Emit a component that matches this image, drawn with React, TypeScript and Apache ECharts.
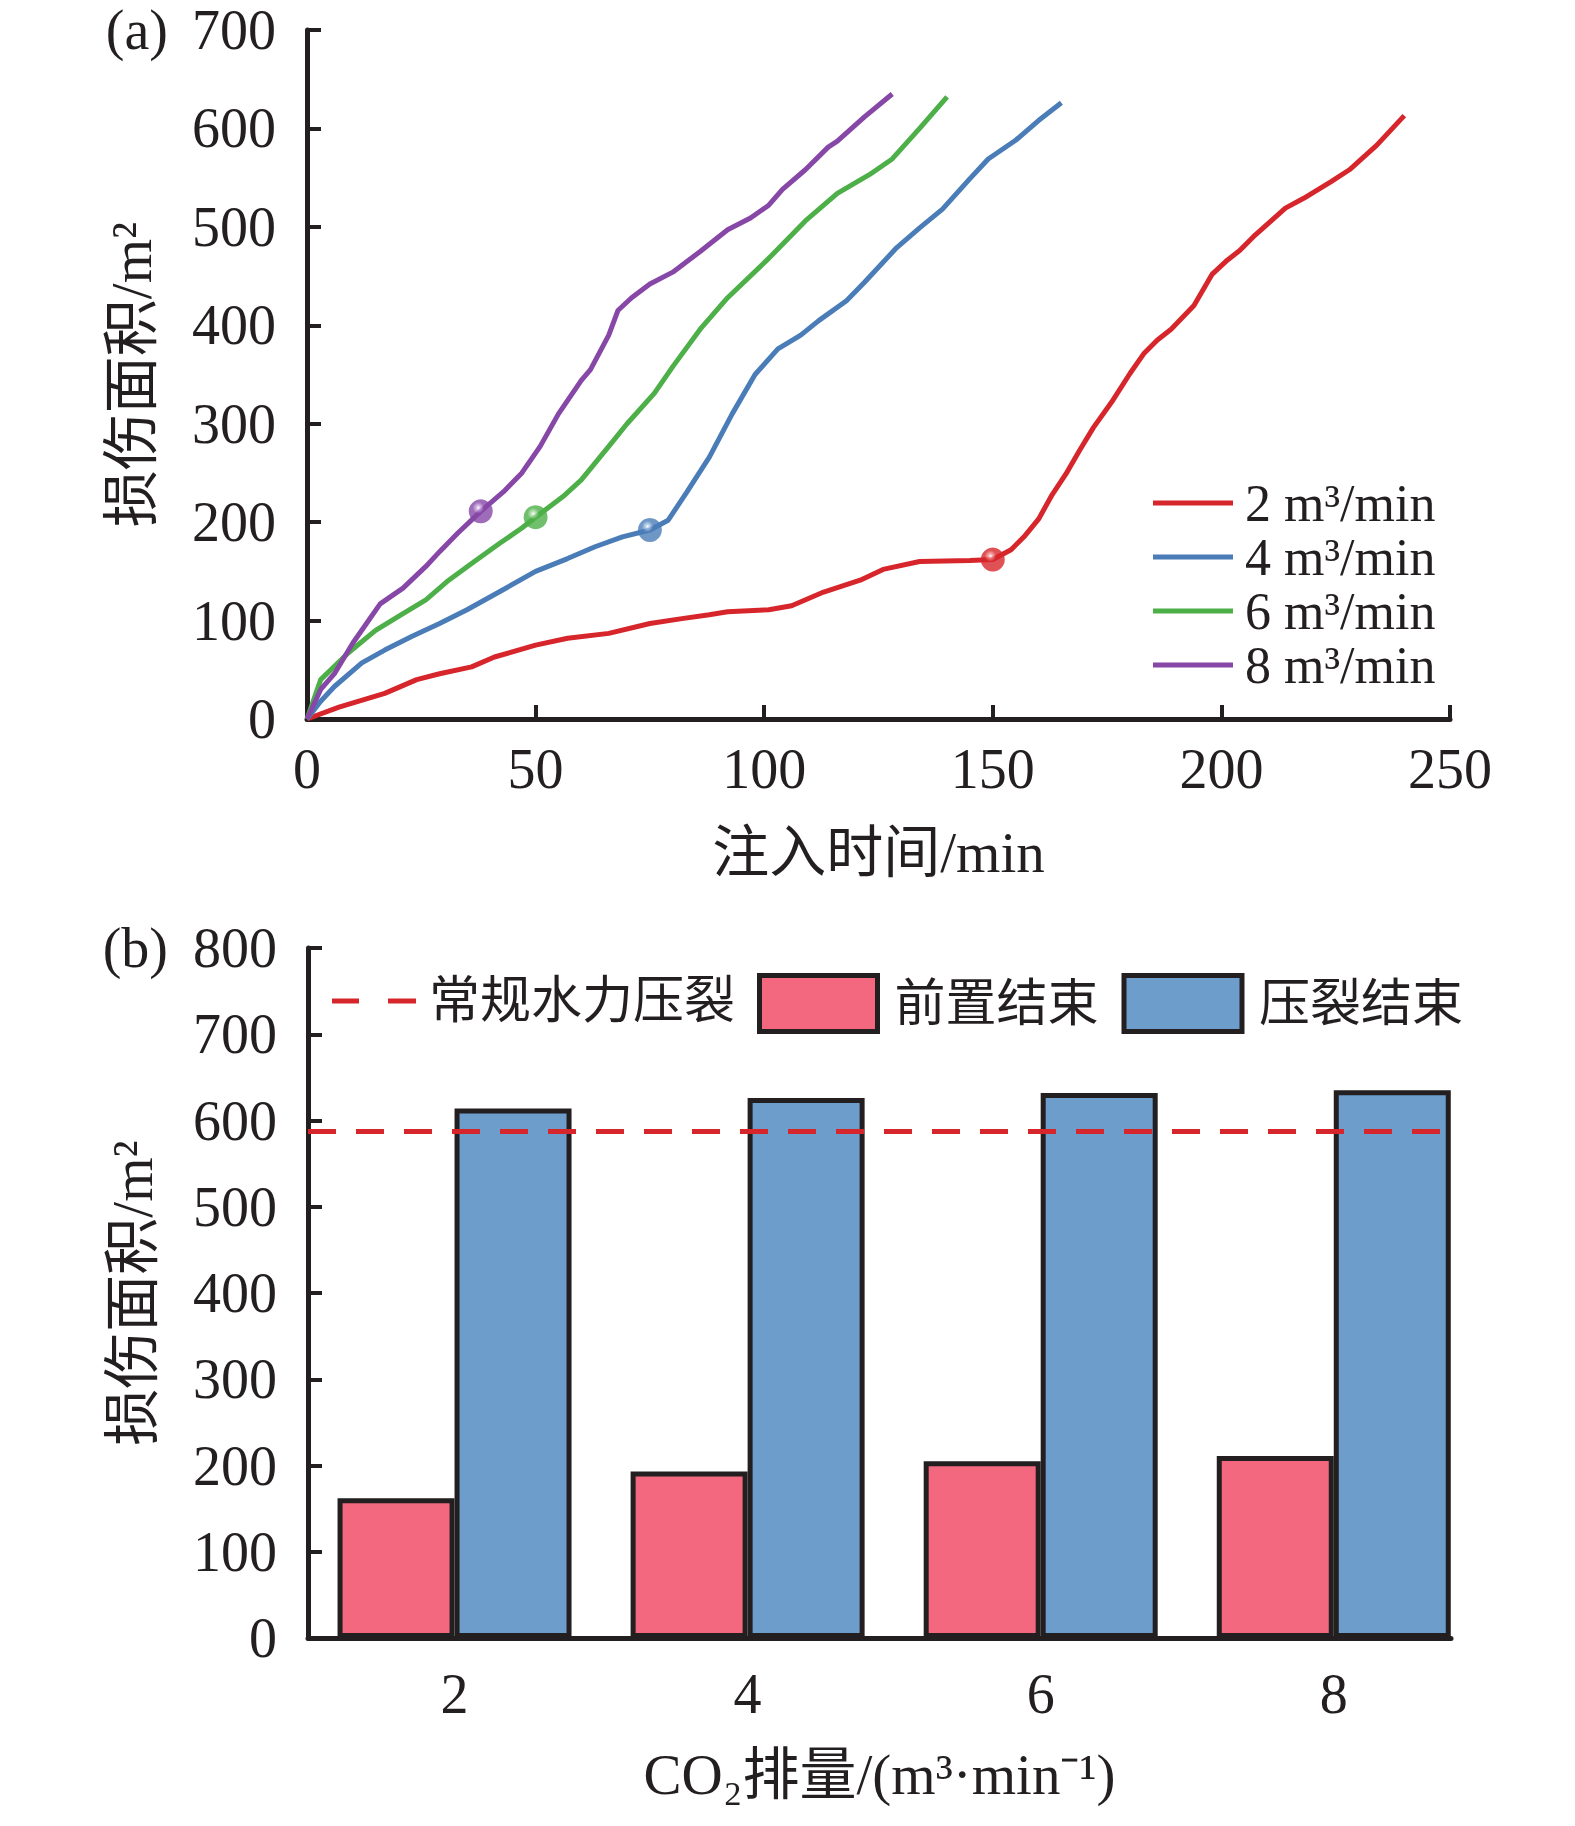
import React, { useEffect, useRef } from "react";
import * as echarts from "echarts";

// ---------- Panel (a): damaged area vs injection time ----------
const rateNames = ["2 m³/min", "4 m³/min", "6 m³/min", "8 m³/min"];
const rateColors = ["#D7262B", "#4A7DB8", "#4DAF48", "#8647A7"];
const rateLight = ["#F4A0A2", "#B5CDEB", "#B9E3B5", "#D3B3E6"];

const time2 = [0, 7, 17, 24, 29, 36, 41, 50, 57, 66, 75, 82, 88, 92, 101, 106, 113, 121, 126, 134, 145, 150, 154, 157, 160, 163, 166, 169, 172, 176, 180, 183, 186, 189, 194, 198, 201, 204, 207, 214, 218, 224, 228, 234, 240];
const area2 = [0, 12, 26, 40, 46, 53, 63, 75, 82, 87, 97, 102, 106, 109, 111, 115, 129, 141, 152, 160, 161, 162, 172, 186, 203, 228, 249, 273, 296, 322, 351, 371, 385, 396, 420, 452, 465, 476, 490, 519, 529, 546, 558, 583, 613];

const time4 = [0, 3, 6, 12, 17, 23, 29, 35, 42, 50, 57, 63, 69, 75, 79, 83, 88, 93, 98, 103, 108, 112, 118, 122, 129, 134, 139, 145, 149, 155, 160, 165];
const area4 = [0, 18, 33, 57, 70, 84, 97, 111, 129, 150, 163, 175, 185, 192, 202, 230, 266, 310, 350, 376, 390, 405, 425, 444, 479, 499, 518, 549, 569, 588, 608, 626];

const time6 = [0, 3, 9, 15, 21, 26, 31, 36, 42, 47, 50, 56, 60, 66, 70, 76, 80, 86, 92, 101, 109, 116, 123, 128, 134, 140];
const area6 = [0, 40, 67, 90, 107, 121, 141, 158, 178, 194, 205, 226, 243, 277, 300, 331, 358, 396, 428, 468, 506, 534, 553, 569, 600, 632];

const time8 = [0, 3, 6, 10, 16, 21, 26, 29, 33, 38, 43, 47, 51, 55, 60, 62, 66, 68, 71, 75, 80, 86, 92, 97, 101, 104, 109, 114, 116, 122, 128];
const area8 = [0, 30, 46, 77, 117, 133, 155, 170, 189, 211, 231, 250, 277, 310, 344, 355, 390, 415, 428, 442, 454, 475, 497, 509, 522, 538, 558, 581, 587, 612, 635];

const prefracTime = [150, 75, 50, 38];
const prefracArea = [162, 192, 205, 211];

// ---------- Panel (b): damaged area vs CO2 rate ----------
const rates = [2, 4, 6, 8];
const prefracEnd = [162, 193, 205, 211];
const fracEnd = [614, 626, 632, 635];
const conventionalArea = 588;
const barNames = ["前置结束", "压裂结束"];
const barColors = ["#F3687E", "#6C9DCB"];
const conventionalName = "常规水力压裂";
const conventionalColor = "#D7262B";

const ink = "#231F20";
const serif = "'Liberation Serif', 'Times New Roman', 'Noto Sans CJK SC', serif";

const zip = (t: number[], a: number[]) => t.map((x, i) => [x, a[i]]);

export default function App() {
  const ref = useRef<HTMLDivElement>(null);

  useEffect(() => {
    document.body.style.margin = "0";
    const chart = echarts.init(ref.current!, null, { renderer: "svg" });

    const lineData = [zip(time2, area2), zip(time4, area4), zip(time6, area6), zip(time8, area8)];

    const lineSeries = lineData.map((d, i) => ({
      name: rateNames[i],
      type: "line",
      xAxisIndex: 0,
      yAxisIndex: 0,
      data: d,
      symbol: "none",
      showSymbol: false,
      lineStyle: { color: rateColors[i], width: 5 },
      itemStyle: { color: rateColors[i] },
      z: 3,
    }));

    const markerSeries = prefracTime.map((t, i) => ({
      name: "marker" + i,
      type: "scatter",
      xAxisIndex: 0,
      yAxisIndex: 0,
      data: [[t, prefracArea[i]]],
      symbol: "circle",
      symbolSize: 24,
      itemStyle: {
        color: new echarts.graphic.RadialGradient(0.4, 0.35, 0.6, [
          { offset: 0, color: "#ffffff" },
          { offset: 0.12, color: rateLight[i] },
          { offset: 0.4, color: rateColors[i] },
          { offset: 1, color: rateColors[i] },
        ]),
      },
      z: 5,
    }));

    const axisLine = { show: true, onZero: false, lineStyle: { color: ink, width: 5 } };
    const tickStyle = { show: true, inside: true, length: 14, lineStyle: { color: ink, width: 4 } };
    const labelStyle = (margin: number) => ({ fontSize: 56, margin, color: ink, fontFamily: serif });
    const nameStyle = { fontSize: 57, color: ink, fontFamily: serif };

    const option: any = {
      animation: false,
      backgroundColor: "#ffffff",
      textStyle: { fontFamily: serif, color: ink },
      grid: [
        { left: 307, top: 30, width: 1143, height: 689 },
        { left: 308, top: 948, width: 1143, height: 690 },
      ],
      xAxis: [
        {
          type: "value",
          gridIndex: 0,
          min: 0,
          max: 250,
          interval: 50,
          axisLine,
          axisTick: tickStyle,
          axisLabel: labelStyle(22),
          splitLine: { show: false },
          name: "注入时间/min",
          nameLocation: "middle",
          nameGap: 105,
          nameTextStyle: nameStyle,
        },
        {
          type: "value",
          gridIndex: 1,
          min: 1,
          max: 8.8,
          axisLine,
          axisTick: { show: false },
          axisLabel: { ...labelStyle(28), customValues: rates, formatter: (v: number) => String(v) },
          splitLine: { show: false },
          name: "CO₂排量/(m³·min⁻¹)",
          nameLocation: "middle",
          nameGap: 108,
          nameTextStyle: nameStyle,
        },
      ],
      yAxis: [
        {
          type: "value",
          gridIndex: 0,
          min: 0,
          max: 700,
          interval: 100,
          axisLine,
          axisTick: tickStyle,
          axisLabel: labelStyle(31),
          splitLine: { show: false },
          name: "损伤面积/m²",
          nameLocation: "middle",
          nameGap: 147,
          nameTextStyle: nameStyle,
        },
        {
          type: "value",
          gridIndex: 1,
          min: 0,
          max: 800,
          interval: 100,
          axisLine,
          axisTick: tickStyle,
          axisLabel: labelStyle(31),
          splitLine: { show: false },
          name: "损伤面积/m²",
          nameLocation: "middle",
          nameGap: 147,
          nameTextStyle: nameStyle,
        },
      ],
      legend: [
        {
          data: rateNames,
          orient: "vertical",
          left: 1148,
          top: 471,
          itemWidth: 80,
          itemHeight: 5,
          itemGap: 0,
          icon: "rect",
          textStyle: { fontSize: 52, lineHeight: 54, color: ink, fontFamily: serif, padding: [0, 0, 0, 7] },
        },
        {
          data: [
            {
              name: conventionalName,
              icon: "path://M0 0H27V5H0Z M56 0H84V5H56Z",
              itemStyle: { color: conventionalColor },
            },
          ],
          orient: "horizontal",
          left: 327,
          top: 968,
          itemWidth: 84,
          itemHeight: 5,
          textStyle: { fontSize: 51, lineHeight: 56, color: ink, fontFamily: serif, padding: [0, 0, 0, 8] },
        },
        {
          data: barNames,
          orient: "horizontal",
          left: 752,
          top: 968,
          itemWidth: 118,
          itemHeight: 56,
          itemGap: 23,
          icon: "rect",
          itemStyle: { borderColor: ink, borderWidth: 5 },
          textStyle: { fontSize: 51, lineHeight: 56, color: ink, fontFamily: serif, padding: [0, 0, 0, 12] },
        },
      ],
      graphic: [
        {
          type: "text",
          x: 168,
          y: 30,
          style: { text: "(a)", fontSize: 56, fontFamily: serif, fill: ink, textAlign: "right", textVerticalAlign: "middle" },
        },
        {
          type: "text",
          x: 168,
          y: 948,
          style: { text: "(b)", fontSize: 56, fontFamily: serif, fill: ink, textAlign: "right", textVerticalAlign: "middle" },
        },
      ],
      series: [
        ...lineSeries,
        ...markerSeries,
        {
          name: barNames[0],
          type: "bar",
          xAxisIndex: 1,
          yAxisIndex: 1,
          data: zip(rates, prefracEnd),
          barWidth: 117,
          barGap: "0%",
          itemStyle: { color: barColors[0], borderColor: ink, borderWidth: 5 },
        },
        {
          name: barNames[1],
          type: "bar",
          xAxisIndex: 1,
          yAxisIndex: 1,
          data: zip(rates, fracEnd),
          barWidth: 117,
          barGap: "0%",
          itemStyle: { color: barColors[1], borderColor: ink, borderWidth: 5 },
        },
        {
          name: conventionalName,
          type: "line",
          xAxisIndex: 1,
          yAxisIndex: 1,
          data: [],
          symbol: "none",
          lineStyle: { color: conventionalColor, width: 5, type: [28, 20] },
          itemStyle: { color: conventionalColor },
          markLine: {
            silent: true,
            symbol: ["none", "none"],
            label: { show: false },
            lineStyle: { color: conventionalColor, width: 5, type: [28, 20] },
            data: [{ yAxis: conventionalArea }],
          },
          z: 4,
        },
      ],
    };

    chart.setOption(option);
    return () => chart.dispose();
  }, []);

  return <div ref={ref} style={{ width: 1575, height: 1826 }} />;
}
